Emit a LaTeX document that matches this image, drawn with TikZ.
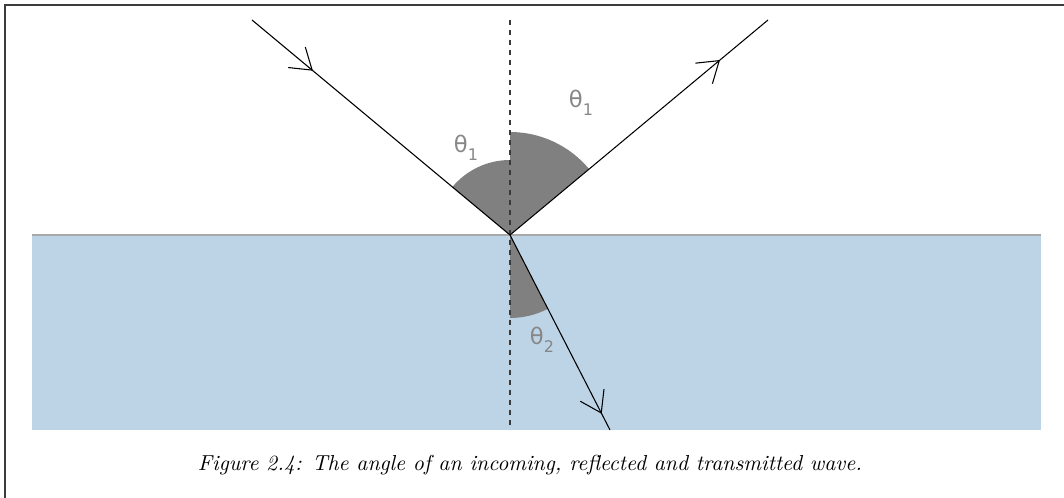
\documentclass[tikz,border=0pt]{standalone}
\usepackage{fontspec}
\newfontfamily\lblfont{DejaVu Sans}
\usetikzlibrary{arrows.meta,decorations.markings}
\definecolor{waterc}{HTML}{BDD4E7}
\definecolor{wedgec}{HTML}{808080}
\definecolor{framec}{HTML}{3C3C3C}
\definecolor{edgec}{HTML}{A9A9A9}
\definecolor{lblc}{HTML}{878787}
\definecolor{dashc}{HTML}{3A3A3A}
\newcommand{\thetalbl}[1]{{\lblfont\fontsize{17}{17}\selectfont θ\raisebox{-6pt}{\fontsize{12}{12}\selectfont #1}}}
\begin{document}
\begin{tikzpicture}[x=0.75pt,y=0.75pt,
  ray/.style={black, line width=0.8pt},
  barbtip/.style={Straight Barb[length=15pt,width=20pt,line width=0.8pt]},
  markat/.style={postaction={decorate,decoration={markings,
      mark=at position #1 with {\arrow{Straight Barb[length=15pt,width=20pt]}}}}},
  wedge/.style={fill=wedgec},
  angtext/.style={text=lblc, inner sep=0pt},
  normal/.style={dashc, line width=1.1pt, dash pattern=on 3.75pt off 3.75pt}
]
\useasboundingbox (0,0) rectangle (1064,498);
% frame (top and left edges)
\draw[framec, line width=1.1pt] (5,0) -- (5,493) -- (1064,493);
% water
\fill[waterc] (32,68) rectangle (1041,263);
\draw[edgec, line width=1.5pt] (32,263) -- (1041,263);
% named points
\coordinate (O) at (510,263);
\coordinate (A) at (252,478);
\coordinate (R) at (768,478);
\coordinate (T) at (610,68);
\coordinate (Ntop) at (510,478);
\coordinate (Nbot) at (510,68);
% angle wedges
\fill[wedge] (O) -- ++(140.19:75) arc[start angle=140.19, end angle=90, radius=75] -- cycle;
\fill[wedge] (O) -- ++(39.81:103) arc[start angle=39.81, end angle=90, radius=103] -- cycle;
\fill[wedge] (O) -- ++(-62.85:83) arc[start angle=-62.85, end angle=-90, radius=83] -- cycle;
% normal
\draw[normal] (Ntop) -- (Nbot);
% rays
\draw[ray, markat=0.236] (A) -- (O);
\draw[ray, markat=0.814] (O) -- (R);
\draw[ray, markat=0.917] (O) -- (T);
% labels
\node[angtext] (l1) at (466,350) {\thetalbl{1}};
\node[angtext] (l2) at (581,395) {\thetalbl{1}};
\node[angtext] (l3) at (542,158) {\thetalbl{2}};
% caption
\node[inner sep=0pt] (cap) at (530,33) {\resizebox{498pt}{!}{\itshape Figure 2.4: The angle of an incoming, reflected and transmitted wave.}};
\end{tikzpicture}
\end{document}
